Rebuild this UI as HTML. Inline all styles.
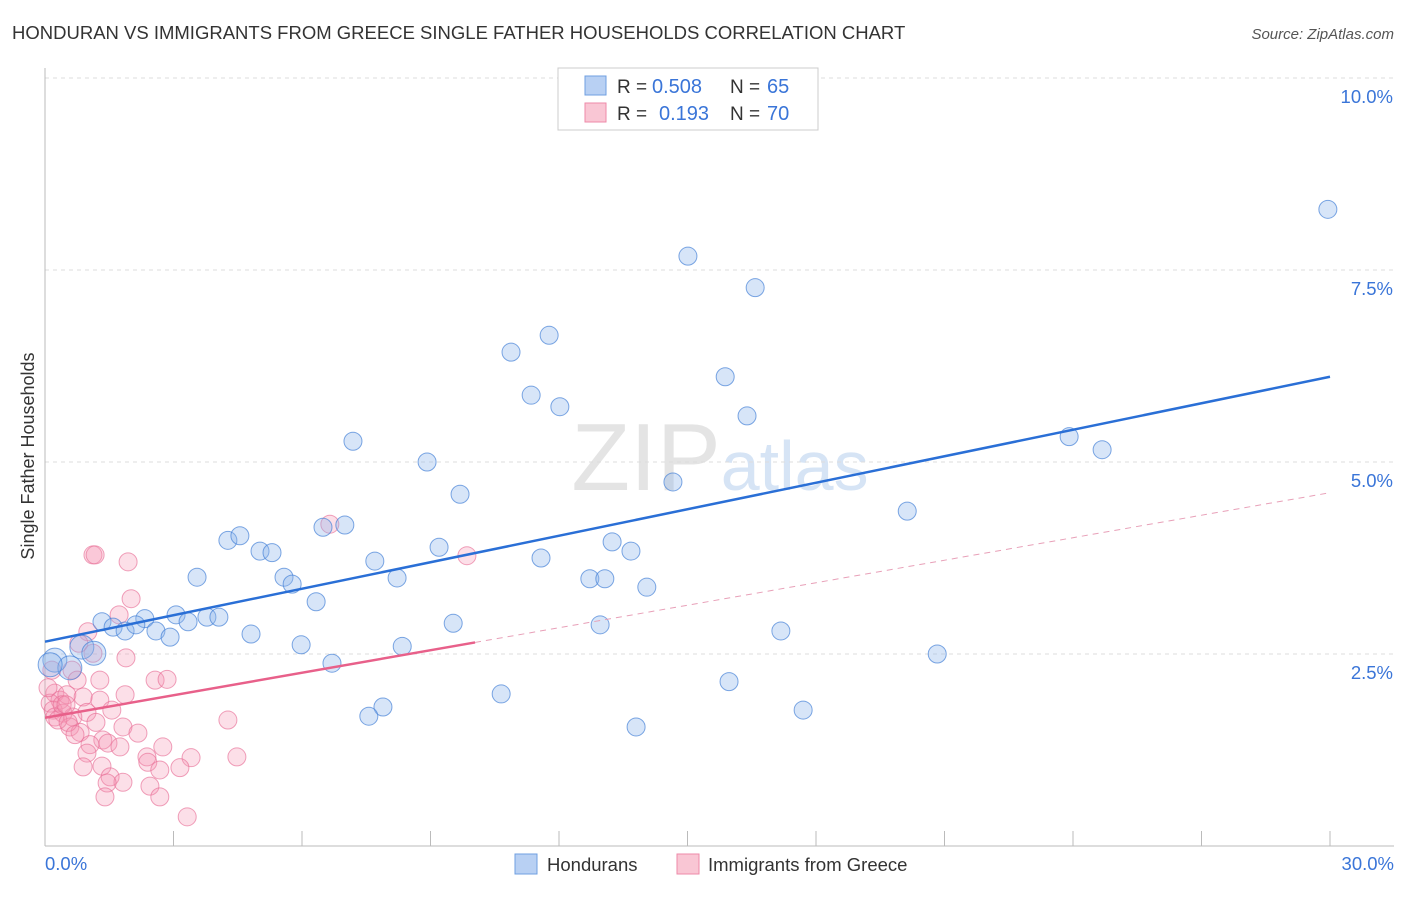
<!DOCTYPE html>
<html><head><meta charset="utf-8"><style>
body{margin:0;background:#fff;font-family:"Liberation Sans",sans-serif;}
svg text{font-family:"Liberation Sans",sans-serif;}
</style></head><body>
<svg id="chart" width="1406" height="892" xmlns="http://www.w3.org/2000/svg">
<text x="12" y="39" font-size="18.5" fill="#333">HONDURAN VS IMMIGRANTS FROM GREECE SINGLE FATHER HOUSEHOLDS CORRELATION CHART</text>
<text x="1394" y="39" font-size="15" fill="#555" text-anchor="end" font-style="italic">Source: ZipAtlas.com</text>
<text x="720" y="490" font-size="96" fill="#e4e4e4" text-anchor="middle" font-family="Liberation Serif,serif">ZIP<tspan fill="#d6e4f5" font-family="Liberation Sans,sans-serif" font-size="70">atlas</tspan></text>
<g id="grid"></g><g id="axes"></g><g id="pts"></g><g id="lines"></g>
<text transform="translate(34,456) rotate(-90)" font-size="18" fill="#333" text-anchor="middle">Single Father Households</text>
<g>
<rect x="558" y="68" width="260" height="62" fill="#fff" stroke="#ccc"/>
<rect x="585" y="76" width="21" height="19" fill="#b8d0f3" stroke="#6f9fe0"/>
<text x="617" y="93" font-size="19" fill="#333">R =</text>
<text x="652" y="93" font-size="20" fill="#3a75d8">0.508</text>
<text x="730" y="93" font-size="19" fill="#333">N =</text>
<text x="767" y="93" font-size="20" fill="#3a75d8">65</text>
<rect x="585" y="103" width="21" height="19" fill="#f9c6d4" stroke="#ee8aa8"/>
<text x="617" y="120" font-size="19" fill="#333">R =</text>
<text x="659" y="120" font-size="20" fill="#3a75d8">0.193</text>
<text x="730" y="120" font-size="19" fill="#333">N =</text>
<text x="767" y="120" font-size="20" fill="#3a75d8">70</text>
</g>
<g>
<rect x="515" y="854" width="22" height="20" fill="#b8d0f3" stroke="#6f9fe0"/>
<text x="547" y="871" font-size="18.5" fill="#333">Hondurans</text>
<rect x="677" y="854" width="22" height="20" fill="#f9c6d4" stroke="#ee8aa8"/>
<text x="708" y="871" font-size="18.5" fill="#333">Immigrants from Greece</text>
</g>
</svg>
<script>
const yTicks=[2.5,5.0,7.5,10.0];
const yTickLabels=["2.5%","5.0%","7.5%","10.0%"];
const xTickLabels=["0.0%","30.0%"];
const blueX=[15.01,16.58,29.95,10.88,11.77,11.35,12.02,15.88,16.39,23.91,24.68,7.19,8.92,9.69,14.66,20.13,6.49,7.00,4.27,4.55,5.02,5.30,3.55,5.58,5.77,7.70,8.22,9.20,11.58,13.24,13.68,12.72,13.07,14.05,6.33,3.06,3.78,4.06,2.33,3.34,1.33,1.59,1.87,2.12,2.59,2.92,4.81,9.53,12.96,17.18,5.98,8.34,6.70,20.83,0.86,1.14,0.23,0.58,0.12,10.65,15.97,7.89,7.56,17.70,13.80];
const blueY=[7.68,7.27,8.29,6.43,6.65,5.87,5.72,6.11,5.60,5.33,5.16,5.27,5.00,4.58,4.74,4.36,4.15,4.18,3.98,4.04,3.84,3.82,3.50,3.50,3.41,3.71,3.49,3.89,3.75,3.96,3.84,3.48,3.48,3.37,3.18,3.01,2.98,2.98,2.96,2.92,2.92,2.85,2.80,2.88,2.80,2.72,2.76,2.90,2.88,2.80,2.62,2.60,2.38,2.50,2.59,2.51,2.42,2.32,2.36,1.98,2.14,1.81,1.69,1.77,1.55];
const pinkX=[1.12,1.17,1.94,2.01,1.73,1.00,0.79,1.12,1.89,0.16,0.63,0.75,1.28,2.57,2.85,1.87,1.28,0.23,0.35,0.51,0.89,1.56,0.98,0.12,0.19,0.42,0.65,0.58,0.82,4.27,1.82,2.17,2.75,1.35,1.05,1.47,1.75,0.98,2.38,2.40,4.48,3.41,0.89,1.33,2.68,3.15,1.52,1.82,2.45,1.45,1.40,2.68,3.32,0.23,0.30,0.07,0.40,0.54,1.19,0.70,0.49,6.65,9.85];
const pinkY=[3.79,3.79,3.70,3.22,3.01,2.79,2.64,2.51,2.45,2.29,2.29,2.16,2.16,2.16,2.17,1.97,1.90,1.99,1.90,1.97,1.94,1.77,1.74,1.86,1.77,1.73,1.68,1.55,1.48,1.64,1.55,1.47,1.29,1.38,1.32,1.34,1.29,1.21,1.16,1.09,1.16,1.15,1.03,1.04,0.99,1.02,0.90,0.83,0.78,0.82,0.64,0.64,0.38,1.68,1.64,2.06,1.84,1.61,1.61,1.45,1.84,4.19,3.78];
const blueTrend=[2.66,6.11];
const pinkTrend=[1.67,4.60];
const pinkSolidEnd=10.04;
const NS="http://www.w3.org/2000/svg";
const X=v=>45+v/30*1285, Y=v=>846-v*76.8;
function mk(tag,attrs,parent){const e=document.createElementNS(NS,tag);for(const k in attrs)e.setAttribute(k,attrs[k]);document.getElementById(parent).appendChild(e);return e;}
let g=mk('line',{x1:45,y1:Y(10),x2:1394,y2:Y(10),stroke:'#ddd','stroke-dasharray':'4,4'},'grid');


yTicks.forEach((t,i)=>{
 const l=mk('line',{x1:45,y1:Y(t),x2:1394,y2:Y(t),stroke:'#ddd','stroke-dasharray':'4,4'},'grid');
 
 
 const tx=mk('text',{x:1393,y:Y(t)+25,'font-size':18.5,fill:'#3a75d8','text-anchor':'end'},'axes');
 tx.textContent=yTickLabels[i];
 
 
});
let ax=mk('line',{x1:45,y1:68,x2:45,y2:846,stroke:'#bbb'},'axes');


let bx=mk('line',{x1:45,y1:846,x2:1394,y2:846,stroke:'#bbb'},'axes');


for(let i=1;i<=10;i++){const t=mk('line',{x1:X(i*3),y1:831,x2:X(i*3),y2:846,stroke:'#bbb'},'axes');
 
 }
[[0,'start',45],[1,'end',1394]].forEach(([i,a,x])=>{const t=mk('text',{x:x,y:870,'font-size':18.5,fill:'#3a75d8','text-anchor':a},'axes');t.textContent=xTickLabels[i];
 
 });
pinkX.forEach((v,i)=>{const c=mk('circle',{cx:X(v),cy:Y(pinkY[i]),r:9,fill:'rgba(244,150,180,0.3)',stroke:'rgba(232,110,150,0.65)','stroke-width':1},'pts');
 
 });
blueX.forEach((v,i)=>{const c=mk('circle',{cx:X(v),cy:Y(blueY[i]),r:(i>=54&&i<=58)?12:9,fill:'rgba(140,180,235,0.35)',stroke:'rgba(70,130,215,0.7)','stroke-width':1},'pts');
 
 });
let bl=mk('line',{x1:X(0),y1:Y(blueTrend[0]),x2:X(30),y2:Y(blueTrend[1]),stroke:'#2a6fd6','stroke-width':2.5},'lines');


const pAt=x=>pinkTrend[0]+(pinkTrend[1]-pinkTrend[0])*x/30;
let pl=mk('line',{x1:X(0),y1:Y(pinkTrend[0]),x2:X(pinkSolidEnd),y2:Y(pAt(pinkSolidEnd)),stroke:'#e8608a','stroke-width':2.5},'lines');


let pd=mk('line',{x1:X(pinkSolidEnd),y1:Y(pAt(pinkSolidEnd)),x2:X(30),y2:Y(pinkTrend[1]),stroke:'#e8a0b8','stroke-width':1,'stroke-dasharray':'6,5'},'lines');


</script>
</body></html>
